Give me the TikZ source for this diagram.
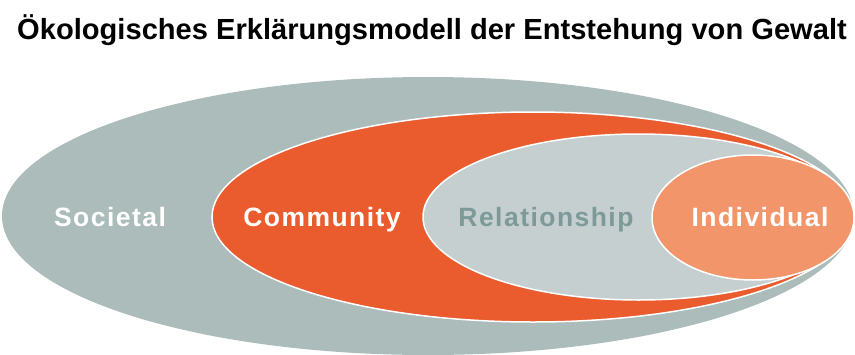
\documentclass[tikz,border=0pt]{standalone}
\usepackage{fontspec}
\setmainfont{Liberation Sans}
\usepackage{tikz}
\usetikzlibrary{shapes.geometric,positioning}
\definecolor{societalgrey}{HTML}{ABBCBB}
\definecolor{communityred}{HTML}{EA5C2D}
\definecolor{relationgrey}{HTML}{C5CFD0}
\definecolor{individualorange}{HTML}{F2956A}
\definecolor{relationtext}{HTML}{7D9A99}
\tikzset{
    level/.style={ellipse, inner sep=0pt, draw=white, line width=1.5pt},
    levellabel/.style={anchor=base, text=white,
        font=\fontsize{26.5}{30}\selectfont\bfseries\addfontfeature{LetterSpace=5.5}},
}
\begin{document}
\begin{tikzpicture}[x=1pt,y=-1pt]
   \useasboundingbox (0,0) rectangle (855,354);
   \node[anchor=base, font=\fontsize{29.1}{34}\selectfont\bfseries] (title) at (432,39.5)
      {Ökologisches Erklärungsmodell der Entstehung von Gewalt};
   % nested levels, all touching at the right
   \node[level, draw=none, fill=societalgrey, minimum width=852pt, minimum height=278pt] (societal) at (428,216) {};
   \node[level, fill=communityred, minimum width=642pt, minimum height=210pt] (community) at (533,217) {};
   \node[level, fill=relationgrey, minimum width=431pt, minimum height=166pt] (relationship) at (638.5,217) {};
   \node[level, fill=individualorange, minimum width=202pt, minimum height=125pt] (individual) at (753,217.5) {};
   % labels
   \node[levellabel] (societal text) at (110,226) {Societal};
   \node[levellabel] (community text) at (322,226) {Community};
   \node[levellabel, text=relationtext] (relationship text) at (546,226) {Relationship};
   \node[levellabel] (individual text) at (760,226) {Individual};
\end{tikzpicture}
\end{document}
